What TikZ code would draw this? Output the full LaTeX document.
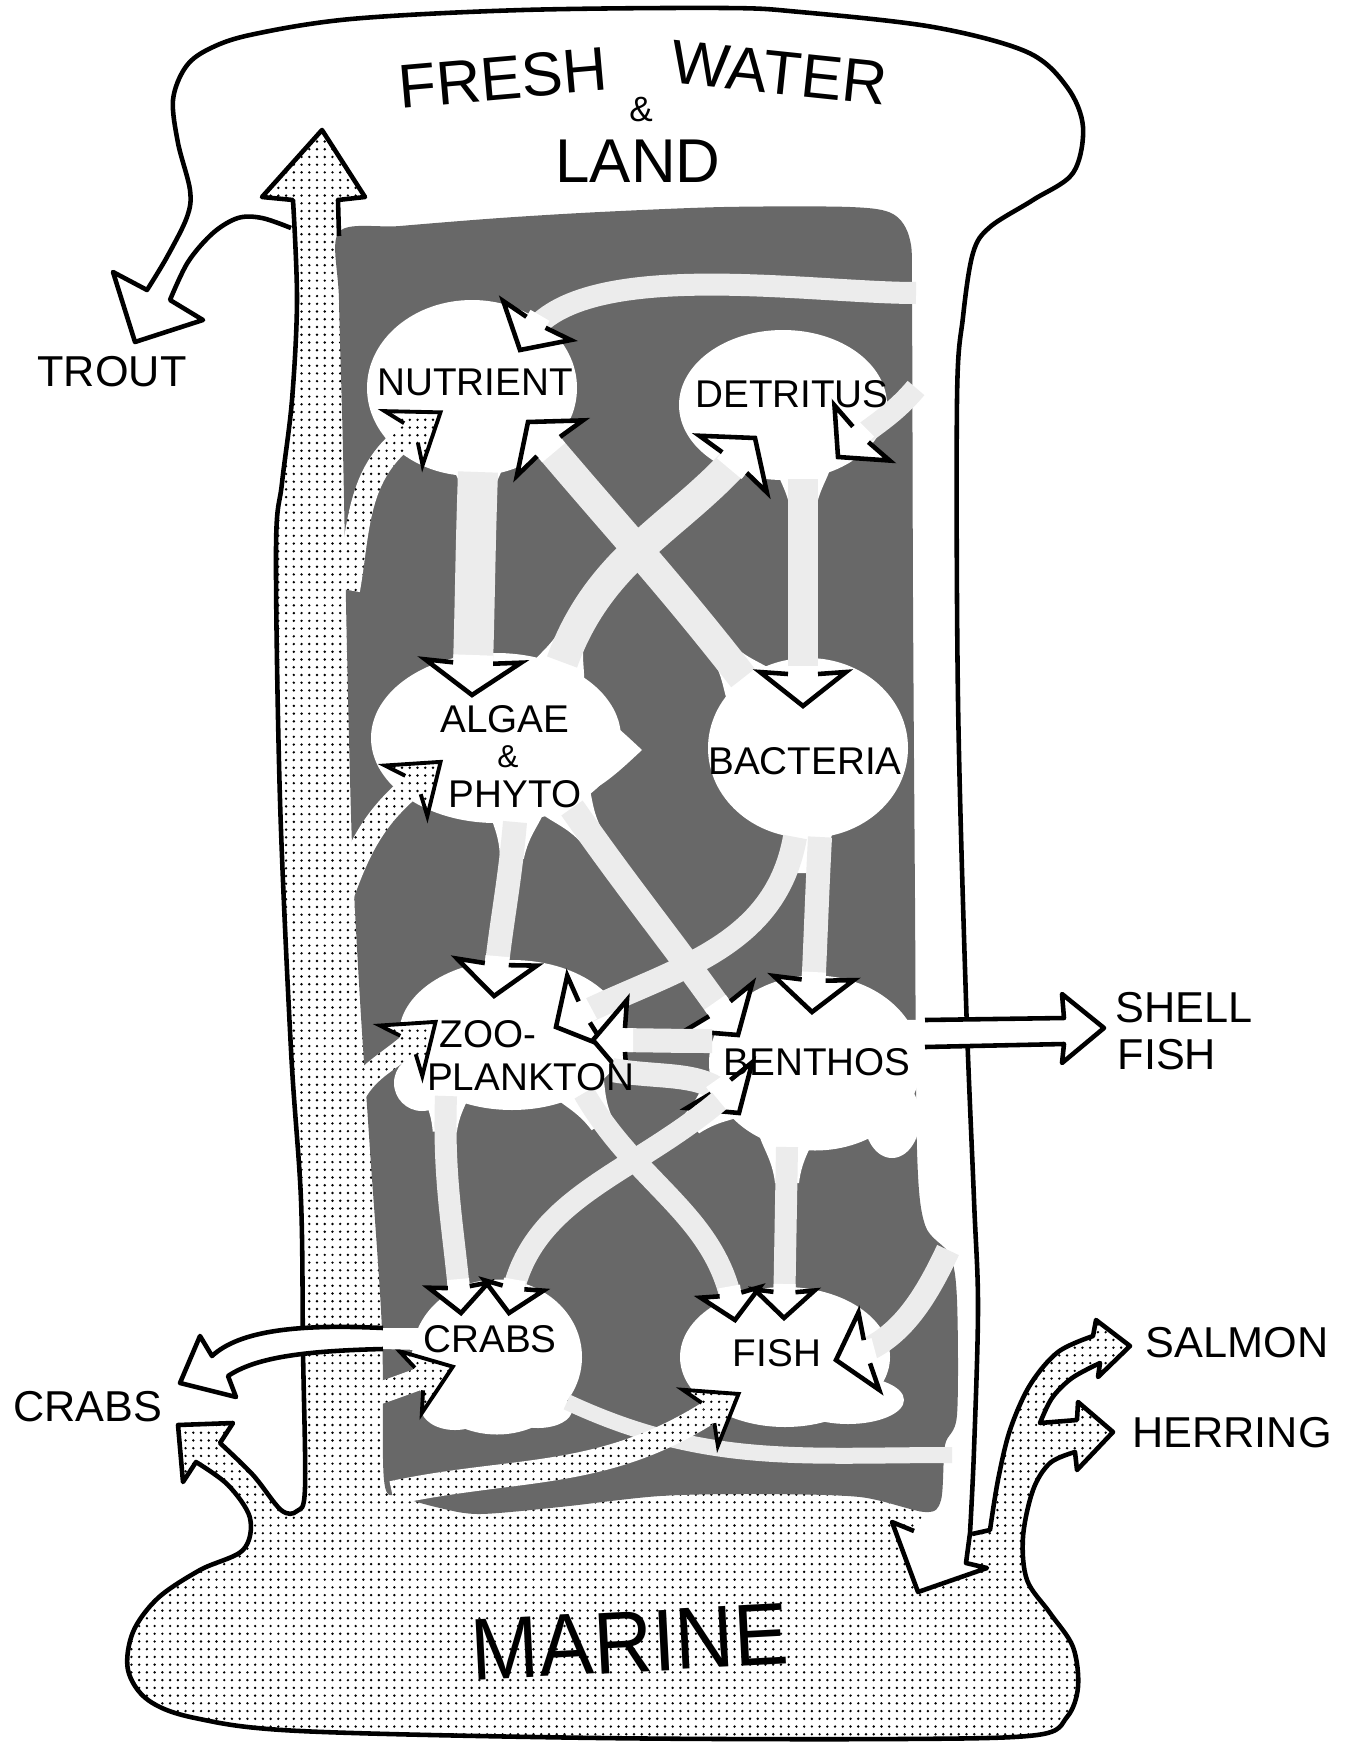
\documentclass[tikz,border=0pt]{standalone}
\usepackage{fontspec}
\setmainfont{Liberation Sans}
\usetikzlibrary{calc,patterns.meta,shapes.geometric}
\definecolor{darkreg}{RGB}{104,104,104}
\definecolor{bandcol}{RGB}{236,236,236}
% open-backed white arrow head, tip at origin pointing along +x: half band width, length, half barb width
\newcommand{\whd}[3]{%
  \fill[white] (0,0) -- (-#2,{#3}) -- (-#2+2,#1) -- (-#2-6,#1) -- (-#2-6,-#1) -- (-#2+2,-#1) -- (-#2,{-(#3)}) -- cycle;
  \draw[black,line width=1.3pt,line join=miter] (-#2+2,#1) -- (-#2,{#3}) -- (0,0) -- (-#2,{-(#3)}) -- (-#2+2,-#1);}
% flow band with head: [opts] half width, head length, half barb width, start, out, end (tip), in
\newcommand{\flowc}[8][]{%
  \draw[draw=bandcol,line width=#2*0.2mm,shorten >=1.2mm,#1] (#5) to[out=#6,in=#8] (#7);
  \begin{scope}[shift={(#7)},rotate={#8+180}]\whd{#2}{#3}{#4}\end{scope}}
\newcommand{\flowA}[6][]{\flowc[#1]{#2}{34}{#2+28}{#3}{#4}{#5}{#6}}
\newcommand{\flowB}[6][]{\flowc[#1]{#2}{28}{#2+19}{#3}{#4}{#5}{#6}}
\tikzset{
  outl/.style={draw=black,line width=1.3pt,line join=round},
  dotfill/.style={preaction={fill=white},pattern={Dots[distance=2.2pt,radius=0.38pt]},pattern color=black},
  blob/.style={ellipse,fill=white,draw=none,inner sep=0pt},
  lab/.style={font=\fontsize{11pt}{12pt}\selectfont,inner sep=0pt},
  olab/.style={font=\fontsize{12.3pt}{13pt}\selectfont,inner sep=0pt},
  big/.style={font=\fontsize{17.6pt}{18pt}\selectfont,inner sep=0pt},
  dhead/.pic={
    \fill[dotfill] (-2,12) -- (-9,33) -- (36,0) -- (-9,-33) -- (-2,-12) -- cycle;
    \draw[outl,line width=1.1pt,line join=miter] (0,12) -- (-9,33) -- (36,0) -- (-9,-33) -- (0,-12);
  },
  neck/.pic={
    \fill[white] (-20,30) .. controls (0,26) and (10,15) .. (36,12) -- (36,-12) .. controls (10,-15) and (0,-26) .. (-20,-30) -- cycle;
  }
}
% dotted connector: start, out angle, end (head base), in angle, half width
\newcommand{\dconn}[5]{%
  \fill[dotfill] ($(#1)+({#2+90}:#5)$) to[out=#2,in=#4] ($(#3)+({#4-90}:#5)$) -- ($(#3)+({#4+90}:#5)$) to[out=#4,in=#2] ($(#1)+({#2-90}:#5)$) -- cycle;
  \pic[rotate={#4+180}] at (#3) {dhead};}
\begin{document}
\begin{tikzpicture}[x=0.1mm,y=0.1mm]
\useasboundingbox (0,0) rectangle (1355,-1742);
\def\Dline{(338,-200) -- (365,-197) -- (322,-130) -- (262,-197) -- (293,-200) -- plot[smooth,tension=0.55] coordinates {(293,-200) (297,-300) (292,-400) (282,-483) (276,-550) (280,-800) (291,-1050) (301,-1200) (303,-1350) (305,-1488) (297,-1511) (281,-1510) (253,-1475) (220,-1443)} -- (233,-1423) -- (178,-1425) -- (183,-1482) -- (196,-1462) -- plot[smooth,tension=0.55] coordinates {(196,-1462) (228,-1485) (250,-1518) (243,-1550) (200,-1570) (158,-1598) (133,-1632) (128,-1670) (148,-1700) (195,-1718) (300,-1731) (600,-1738) (900,-1739) (1037,-1735) (1067,-1717) (1078,-1687) (1073,-1647) (1050,-1613) (1027,-1580) (1023,-1537) (1033,-1490) (1050,-1463) (1075,-1452)} -- (1077,-1470) -- (1113,-1432) -- (1078,-1402) -- (1077,-1420) -- (1040,-1423) -- plot[smooth,tension=0.55] coordinates {(1040,-1423) (1052,-1398) (1072,-1378) (1100,-1363)} -- (1098,-1377) -- (1130,-1346) -- (1096,-1320) -- (1093,-1336) -- plot[smooth,tension=0.55] coordinates {(1093,-1336) (1058,-1352) (1030,-1385) (1010,-1430) (998,-1480) (990,-1530)} -- (972,-1534)}
% dotted marine + shaft
\fill[dotfill] \Dline -- (976,-1300) -- (940,-1250) -- (940,-300) -- (420,-300) -- (420,-240) -- (339,-232) -- cycle;
% white strip on the right, ending in the arrow to the marine
\fill[white] (895,-195) -- (985,-195) -- (975,-250) -- (963,-317) -- (957,-400) -- (958,-700) -- (966,-1000) -- (974,-1200) -- (978,-1307) -- (974,-1450) -- (970,-1533) -- (966,-1563) -- (987,-1568) -- (918,-1592) -- (892,-1522) -- (914,-1531) -- (935,-1505) -- (935,-1440) -- (905,-1300) -- cycle;
% dark region
\fill[darkreg] plot[smooth cycle,tension=0.5] coordinates {(339,-232) (400,-226) (500,-218) (600,-212) (724,-207) (850,-207) (893,-214) (910,-240) (912,-300) (913,-600) (915,-900) (917,-1150) (925,-1225) (950,-1255) (957,-1300) (957,-1415) (945,-1445) (941,-1500) (925,-1512) (860,-1497) (760,-1494) (660,-1496) (560,-1507) (480,-1514) (440,-1508) (400,-1496) (384,-1480) (382,-1330) (370,-1150) (360,-1000) (352,-845) (347,-650) (343,-450) (339,-300)};
% compartments
\node[blob,minimum width=21mm,minimum height=17.6mm] (nutrient) at (472,-388) {};
\node[blob,minimum width=20.8mm,minimum height=15mm] (detritus) at (783,-405) {};
\node[blob,minimum width=25mm,minimum height=17mm] (algae) at (496,-738) {};
\node[blob,minimum width=20mm,minimum height=18mm] (bacteria) at (808,-748) {};
\node[blob,minimum width=22.6mm,minimum height=15mm] (zoo) at (512,-1035) {};
\node[blob,minimum width=21.2mm,minimum height=17.5mm] (benthos) at (815,-1063) {};
\node[blob,minimum width=17mm,minimum height=15.5mm] (crabs) at (497,-1357) {};
\node[blob,minimum width=21mm,minimum height=14mm] (fish) at (785,-1357) {};
% irregular lobes of the compartments
\fill[white] (555,-690) .. controls (595,-705) and (615,-725) .. (642,-750) .. controls (615,-775) and (595,-795) .. (555,-805) -- cycle;
\fill[white] (892,-1118) ellipse [x radius=28,y radius=40];
\fill[white] (455,-1408) ellipse [x radius=34,y radius=22];
\fill[white] (538,-1410) ellipse [x radius=34,y radius=18];
\fill[white] (848,-1400) ellipse [x radius=56,y radius=24];
\fill[white] (422,-1083) ellipse [x radius=28,y radius=28];
% necks where the flows leave the compartments
\pic[rotate=-90] at ($(nutrient)+(6,-84)$) {neck};
\pic[rotate=-90] at ($(detritus)+(20,-74)$) {neck};
\pic[rotate=-90] at ($(bacteria)+(0,-89)$) {neck};
\pic[rotate=-95] at ($(algae)+(19,-84)$) {neck};
\pic[rotate=-55] at ($(algae)+(76,-70)$) {neck};
\pic[rotate=70] at ($(algae)+(66,76)$) {neck};
\pic[rotate=128] at ($(bacteria)+(-65,70)$) {neck};
\pic[rotate=-92] at ($(zoo)+(-66,-61)$) {neck};
\pic[rotate=-60] at ($(zoo)+(72,-58)$) {neck};
\pic[rotate=-140] at ($(benthos)+(-96,-38)$) {neck};
\pic[rotate=-90] at ($(benthos)+(-28,-84)$) {neck};
% free ends on the right strip
\coordinate (fw1) at (916,-293);
\coordinate (fw2) at (916,-388);
\coordinate (fw3) at (948,-1250);
\coordinate (fw4) at (952,-1455);
% light flows
\flowA[looseness=0.7]{11}{fw1}{180}{$(nutrient)+(48,38)$}{60}
\flowA{11}{fw2}{-130}{$(detritus)+(55,-52)$}{45}
\flowA{20}{$(nutrient)+(6,-84)$}{-92}{$(algae)+(-24,43)$}{88}
\flowA{15}{$(bacteria)+(-65,70)$}{128}{$(nutrient)+(56,-34)$}{-50}
\flowA{16}{$(algae)+(66,76)$}{70}{$(detritus)+(-28,-33)$}{-130}
\flowA{15}{$(detritus)+(20,-74)$}{-90}{$(bacteria)+(-5,42)$}{90}
\flowA{12}{$(algae)+(19,-84)$}{-95}{$(zoo)+(-18,39)$}{85}
\flowA{13}{$(algae)+(76,-70)$}{-55}{$(benthos)+(-77,28)$}{125}
\flowA{12}{$(bacteria)+(-13,-89)$}{-100}{$(zoo)+(44,8)$}{28}
\flowA{12}{$(bacteria)+(12,-89)$}{-93}{$(benthos)+(-3,51)$}{87}
\flowA{12}{$(benthos)+(-103,22)$}{180}{$(zoo)+(81,-5)$}{0}
\flowA{12}{$(zoo)+(100,-35)$}{-10}{$(benthos)+(-76,-50)$}{125}
\flowB{11}{$(zoo)+(-66,-61)$}{-92}{$(crabs)+(-36,44)$}{95}
\flowB{11}{$(benthos)+(-96,-38)$}{-140}{$(crabs)+(12,44)$}{80}
\flowB{11}{$(zoo)+(72,-58)$}{-60}{$(fish)+(-50,37)$}{100}
\flowB{11}{$(benthos)+(-28,-84)$}{-91}{$(fish)+(-1,39)$}{89}
\flowA{12}{fw3}{-115}{$(fish)+(51,-3)$}{15}
\draw[draw=bandcol,line width=1.6mm] ($(crabs)+(70,-45)$) to[out=-25,in=180] (fw4);
% dotted flows from the marine side
\coordinate (ds0) at (392,-1493);
\coordinate (ds1) at (348,-590);
\coordinate (ds2) at (342,-895);
\coordinate (ds3) at (352,-1100);
\coordinate (ds4) at (340,-1405);
\coordinate (de0) at ($(fish)+(-77,-56)$);
\coordinate (de1) at ($(nutrient)+(-61,-45)$);
\coordinate (de2) at ($(algae)+(-83,-47)$);
\coordinate (de3) at ($(zoo)+(-104,-10)$);
\coordinate (de4) at ($(crabs)+(-78,-22)$);
\dconn{ds0}{12}{de0}{-148}{12}
\dconn{ds1}{80}{de1}{-145}{12}
\dconn{ds2}{70}{de2}{-140}{12}
\dconn{ds3}{65}{de3}{-140}{11}
\dconn{ds4}{15}{de4}{-160}{11}
% outlines
\draw[outl] (339,-236) -- \Dline;
\draw[outl] (291,-228) -- plot[smooth,tension=0.55] coordinates {(291,-228) (262,-218) (238,-218) (213,-233) (188,-262) (170,-300)} -- (203,-320) -- (135,-342) -- (113,-272) -- (147,-290) -- plot[smooth,tension=0.55] coordinates {(147,-290) (167,-257) (187,-217) (190,-190) (178,-143) (173,-100) (185,-68) (207,-50) (250,-35) (351,-19) (523,-10) (724,-8) (800,-12) (933,-27) (1027,-52) (1067,-87) (1083,-127) (1073,-173) (1033,-200) (990,-227) (973,-253) (963,-317) (957,-400) (958,-700) (966,-1000) (974,-1200) (978,-1307) (974,-1450) (970,-1533)} -- (966,-1563) -- (987,-1568) -- (918,-1592) -- (892,-1522) -- (914,-1531);
% shell fish arrow
\fill[white] (905,-1020) -- (1064,-1018) -- (1062,-994) -- (1104,-1028) -- (1062,-1063) -- (1064,-1044) -- (905,-1047) -- cycle;
\draw[outl] (925,-1020) -- (1064,-1018) -- (1062,-994) -- (1104,-1028) -- (1062,-1063) -- (1064,-1044) -- (925,-1047);
% crabs arrow to the left
\fill[white] (420,-1328) -- (383,-1328) .. controls (300,-1324) and (240,-1330) .. (212,-1356) -- (200,-1336) -- (180,-1383) -- (236,-1397) -- (228,-1376) .. controls (255,-1358) and (300,-1351) .. (383,-1349) -- (420,-1350) -- cycle;
\draw[outl] (383,-1328) .. controls (300,-1324) and (240,-1330) .. (212,-1356) -- (200,-1336) -- (180,-1383) -- (236,-1397) -- (228,-1376) .. controls (255,-1358) and (300,-1351) .. (383,-1349);
% labels
\node[lab] (tNut) at (475,-382) {NUTRIENT};
\node[lab] (tDet) at (792,-394) {DETRITUS};
\node[lab] (tAlg1) at (505,-719) {ALGAE};
\node[inner sep=0pt,font=\fontsize{9pt}{10pt}\selectfont] (tAlg2) at (508,-757) {\&};
\node[lab] (tAlg3) at (515,-794) {PHYTO};
\node[lab] (tBac) at (805,-761) {BACTERIA};
\node[lab] (tZoo1) at (488,-1034) {ZOO-};
\node[lab] (tZoo2) at (531,-1077) {PLANKTON};
\node[lab] (tBen) at (817,-1062) {BENTHOS};
\node[lab] (tCra) at (490,-1339) {CRABS};
\node[lab] (tFis) at (777,-1353) {FISH};
\node[olab] (tTrout) at (112,-372) {TROUT};
\node[olab,anchor=west] (tShell1) at (1115,-1008) {SHELL};
\node[olab,anchor=west] (tShell2) at (1117,-1055) {FISH};
\node[olab] (tSalmon) at (1237,-1343) {SALMON};
\node[olab] (tHerring) at (1232,-1433) {HERRING};
\node[olab] (tCrabsL) at (88,-1407) {CRABS};
\node[big,rotate=5] (tFresh) at (503,-78) {FRESH};
\node[big,rotate=-6] (tWater) at (779,-73) {WATER};
\node[inner sep=0pt,font=\fontsize{10pt}{11pt}\selectfont] (tAmp) at (641,-110) {\&};
\node[big] (tLand) at (638,-161) {LAND};
\node[inner sep=0pt,font=\fontsize{25pt}{26pt}\selectfont,rotate=3,xscale=0.93] (tMarine) at (630,-1642) {MARINE};
\end{tikzpicture}
\end{document}
